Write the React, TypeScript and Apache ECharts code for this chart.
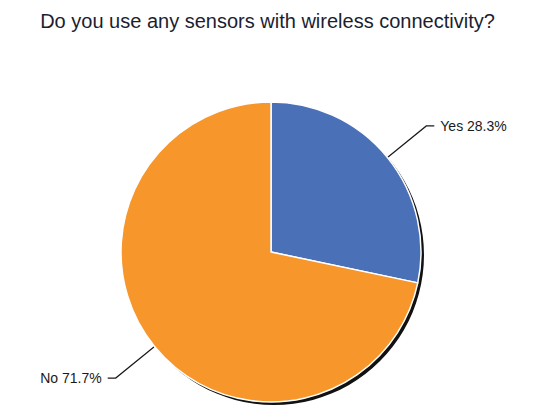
import React, { useEffect, useRef } from "react";
import * as echarts from "echarts";

const categories = ["Yes", "No"];
const values = [28.3, 71.7];
const colors = ["#4a70b8", "#f7962b"];

const App: React.FC = () => {
  const chartRef = useRef<HTMLDivElement>(null);

  useEffect(() => {
    document.body.style.margin = "0";
    if (!chartRef.current) return;
    const chart = echarts.init(chartRef.current, undefined, { renderer: "svg" });

    const options = {
      animation: false,
      backgroundColor: "#ffffff",
      title: {
        text: "Do you use any sensors with wireless connectivity?",
        left: "center",
        top: 6,
        textStyle: {
          fontFamily: "Liberation Sans, Arial, sans-serif",
          fontSize: 20,
          fontWeight: "normal",
          color: "#1b1e30",
        },
      },
      series: [
        {
          // dark drop shadow behind the pie
          type: "pie",
          silent: true,
          center: [274, 255],
          radius: 150,
          label: { show: false },
          labelLine: { show: false },
          itemStyle: { color: "#111111" },
          data: [{ value: 1, name: "shadow" }],
          z: 1,
        },
        {
          type: "pie",
          center: [271, 252],
          radius: 150,
          startAngle: 90,
          clockwise: true,
          z: 2,
          itemStyle: { borderColor: "#ffffff", borderWidth: 1.5 },
          label: {
            show: true,
            formatter: (p: any) => `${p.name} ${p.value}%`,
            fontFamily: "Liberation Sans, Arial, sans-serif",
            fontSize: 14,
            color: "#1a1a1a",
            distanceToLabelLine: 6,
          },
          labelLine: {
            show: true,
            length: 50,
            length2: 8,
            lineStyle: { color: "#1a1a1a", width: 1.2 },
          },
          data: categories.map((name, i) => ({
            name,
            value: values[i],
            itemStyle: { color: colors[i] },
          })),
        },
      ],
    };

    chart.setOption(options);
    return () => {
      chart.dispose();
    };
  }, []);

  return <div ref={chartRef} style={{ width: "535px", height: "419px" }} />;
};

export default App;
